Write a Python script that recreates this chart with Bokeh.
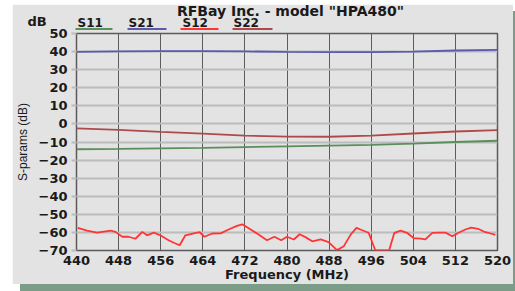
from bokeh.plotting import figure
from bokeh.models import FixedTicker, Range1d
from bokeh.core.properties import value
from bokeh.embed import file_html
from bokeh.resources import INLINE

# ---- data ----
freq = [440, 448, 456, 464, 472, 480, 488, 496, 504, 512, 520]
s11 = [-14.0, -13.8, -13.5, -13.2, -12.8, -12.4, -12.0, -11.6, -10.9, -10.0, -9.3]
s21 = [39.8, 40.1, 40.3, 40.3, 40.1, 39.8, 39.7, 39.7, 40.0, 40.6, 41.0]
s22 = [-2.5, -3.3, -4.4, -5.4, -6.5, -7.0, -7.1, -6.5, -5.3, -4.2, -3.4]

s12_freq = [440.25, 442.0, 443.9, 446.5, 447.4, 448.7, 449.9, 451.2, 452.5, 453.4,
            454.7, 456.0, 457.5, 458.5, 459.6, 460.7, 462.3, 463.4, 464.3, 465.8,
            467.4, 468.9, 470.5, 471.5, 473.1, 474.6, 476.2, 477.6, 478.9, 480.0,
            481.3, 482.4, 483.5, 484.8, 486.4, 487.9, 489.5, 490.8, 492.1, 493.2,
            494.3, 495.5, 496.8, 499.4, 500.4, 501.6, 502.8, 504.1, 505.4, 506.3,
            507.6, 508.9, 510.1, 511.4, 512.6, 513.9, 515.0, 516.3, 517.4, 518.7, 519.6]
s12 = [-57.5, -59.0, -60.1, -59.0, -59.7, -62.4, -62.4, -63.5, -59.7, -61.6,
       -60.1, -61.7, -64.3, -65.7, -67.1, -61.6, -60.5, -59.9, -62.4, -60.6,
       -60.5, -58.4, -56.4, -55.5, -58.4, -61.2, -64.3, -62.4, -64.3, -62.4,
       -63.9, -61.0, -62.6, -64.9, -63.9, -65.4, -69.8, -67.6, -61.2, -57.5,
       -58.8, -60.2, -70.0, -70.0, -60.2, -59.0, -60.2, -63.2, -63.4, -63.9,
       -60.2, -60.1, -60.1, -62.1, -60.2, -58.4, -57.3, -58.0, -59.5, -60.6, -61.3]

x_ticks = list(range(440, 521, 8))
y_ticks = list(range(-70, 51, 10))

series_names = ["S11", "S21", "S12", "S22"]
series_colors = ["#5a8e5a", "#5a5ab0", "#ff3535", "#b04a4a"]

title_text = 'RFBay Inc. - model "HPA480"'
unit_text = "dB"

BG = "#e3e3e3"
TXT = "#1a1a1a"
W, H = 501, 280

# ---- main chart ----
p = figure(width=W, height=H, x_range=Range1d(440, 520), y_range=Range1d(-70, 50),
           output_backend="svg", toolbar_location=None,
           min_border_left=64, min_border_right=16, min_border_top=29, min_border_bottom=33,
           background_fill_color=BG, border_fill_color=BG)
p.styles = {"position": "absolute", "left": "12px", "top": "4px",
            "box-shadow": "8px 7px 0 0 #7b9c86"}

p.outline_line_color = "#5a5a5a"
p.outline_line_width = 1.5

p.xaxis.ticker = FixedTicker(ticks=x_ticks)
p.yaxis.ticker = FixedTicker(ticks=y_ticks)
p.xgrid.ticker = FixedTicker(ticks=x_ticks)
p.ygrid.ticker = FixedTicker(ticks=y_ticks)
p.xgrid.grid_line_color = "#5c5c5c"
p.xgrid.grid_line_width = 1
p.ygrid.grid_line_color = "#bcbcbc"
p.ygrid.grid_line_width = 2

for ax in (p.xaxis[0], p.yaxis[0]):
    ax.axis_line_color = None
    ax.minor_tick_line_color = None
    ax.major_label_text_font = "DejaVu Sans"
    ax.major_label_text_font_style = "bold"
    ax.major_label_text_font_size = "13px"
    ax.major_label_text_color = TXT

p.xaxis.major_tick_line_color = None
p.xaxis.major_tick_out = 0
p.xaxis.major_tick_in = 0
p.xaxis.major_label_standoff = 5
p.xaxis.axis_label = "Frequency (MHz)"
p.xaxis.axis_label_text_font = "DejaVu Sans"
p.xaxis.axis_label_text_font_style = "bold"
p.xaxis.axis_label_text_font_size = "13px"
p.xaxis.axis_label_text_color = TXT
p.xaxis.axis_label_standoff = -1

p.yaxis.major_tick_line_color = "#bcbcbc"
p.yaxis.major_tick_line_width = 2
p.yaxis.major_tick_out = 5
p.yaxis.major_tick_in = 0
p.yaxis.major_label_standoff = 4
p.yaxis.axis_label = "S-params (dB)"
p.yaxis.axis_label_text_font = "Liberation Sans"
p.yaxis.axis_label_text_font_style = "normal"
p.yaxis.axis_label_text_font_size = "12px"
p.yaxis.axis_label_text_color = TXT
p.yaxis.axis_label_standoff = 6

p.line(freq, s11, line_color=series_colors[0], line_width=1.8)
p.line(freq, s21, line_color=series_colors[1], line_width=1.8)
p.line(s12_freq, s12, line_color=series_colors[2], line_width=1.8)
p.line(freq, s22, line_color=series_colors[3], line_width=1.8)

# ---- transparent header overlay (title, unit, legend) ----
HH = 34
h = figure(width=W, height=HH, x_range=Range1d(0, W), y_range=Range1d(HH, 0),
           x_axis_type=None, y_axis_type=None, output_backend="svg", toolbar_location=None,
           min_border=0, background_fill_alpha=0, border_fill_alpha=0)
h.styles = {"position": "absolute", "left": "12px", "top": "0px"}
h.grid.visible = False
h.outline_line_color = None

h.text(x=[278], y=[10], text=[title_text], text_align="center", text_baseline="middle",
       text_font=value("DejaVu Sans"), text_font_style="bold", text_font_size="14px",
       text_color=TXT)
h.text(x=[15], y=[20.5], text=[unit_text], text_align="left", text_baseline="middle",
       text_font=value("DejaVu Sans"), text_font_style="bold", text_font_size="13px",
       text_color=TXT)
leg_text_x = [65, 116, 170, 221]
leg_line_x0 = [63, 115, 168, 220]
leg_line_x1 = [100, 154, 206, 260]
h.text(x=leg_text_x, y=[22.5] * 4, text=series_names, text_align="left",
       text_baseline="middle", text_font=value("DejaVu Sans"), text_font_style="bold",
       text_font_size="12px", text_color=TXT)
h.segment(x0=leg_line_x0, y0=[28.5] * 4, x1=leg_line_x1, y1=[28.5] * 4,
          line_color=series_colors, line_width=2)

open("out.html", "w").write(file_html([p, h], INLINE))
